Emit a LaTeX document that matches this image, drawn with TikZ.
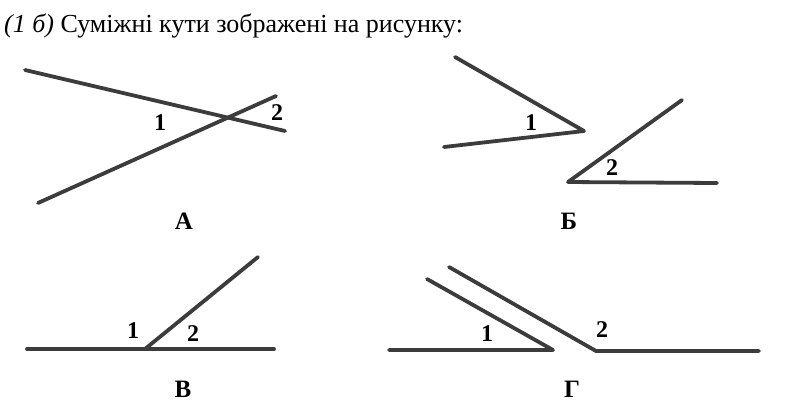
\documentclass[tikz,border=0pt]{standalone}
\usepackage{fontspec}
\setmainfont{Liberation Serif}
\usepackage{xcolor}
\usepackage{tikz}
\usetikzlibrary{calc}

\definecolor{liniya}{HTML}{3C3C3C}

\tikzset{
    promin/.style={line width=3.8pt, draw=liniya, line cap=round, line join=round},
    nomer/.style={font=\fontsize{24}{24}\selectfont\bfseries, inner sep=0pt},
    bukva/.style={font=\fontsize{25}{25}\selectfont\bfseries, inner sep=0pt}
}

\begin{document}
\begin{tikzpicture}[x=1pt,y=-1pt]
        \useasboundingbox (0,0) rectangle (811,408);

        %ZAVDANNYA
        \node[anchor=base west, inner sep=0pt, font=\fontsize{26}{26}\selectfont] (zavd) at (4,32)
            {\textit{(1 б)} Суміжні кути зображені на рисунку:};

        %A
        \coordinate (a1) at (25,70);
        \coordinate (a2) at (285,131);
        \coordinate (a3) at (38,203);
        \coordinate (a4) at (276,96);
        \draw[promin] (a1) -- (a2);
        \draw[promin] (a3) -- (a4);
        \node[nomer] (a-k1) at (160,123) {1};
        \node[nomer] (a-k2) at (277,113) {2};
        \node[bukva] (a-lit) at (184,221) {А};

        %B (Б)
        \coordinate (b1) at (455,57);
        \coordinate (b2) at (584,131);
        \coordinate (b3) at (444,147);
        \coordinate (b4) at (682,100);
        \coordinate (b5) at (568,182);
        \coordinate (b6) at (717,183);
        \draw[promin] (b1) -- (b2) -- (b3);
        \draw[promin] (b4) -- (b5) -- (b6);
        \node[nomer] (b-k1) at (531,123) {1};
        \node[nomer] (b-k2) at (612,168) {2};
        \node[bukva] (b-lit) at (569,221) {Б};

        %V (В)
        \coordinate (v1) at (27,349);
        \coordinate (v2) at (145,349);
        \coordinate (v3) at (274,349);
        \coordinate (v4) at (258,257);
        \draw[promin] (v1) -- (v3);
        \draw[promin] (v2) -- (v4);
        \node[nomer] (v-k1) at (133,331) {1};
        \node[nomer] (v-k2) at (193,334) {2};
        \node[bukva] (v-lit) at (183,389) {В};

        %G (Г)
        \coordinate (g1) at (389,350);
        \coordinate (g2) at (553,350);
        \coordinate (g3) at (427,279);
        \coordinate (g4) at (449,267);
        \coordinate (g5) at (596,351);
        \coordinate (g6) at (759,351);
        \draw[promin] (g1) -- (g2) -- (g3);
        \draw[promin] (g4) -- (g5) -- (g6);
        \node[nomer] (g-k1) at (487,334) {1};
        \node[nomer] (g-k2) at (602,330) {2};
        \node[bukva] (g-lit) at (572,389) {Г};
\end{tikzpicture}
\end{document}
